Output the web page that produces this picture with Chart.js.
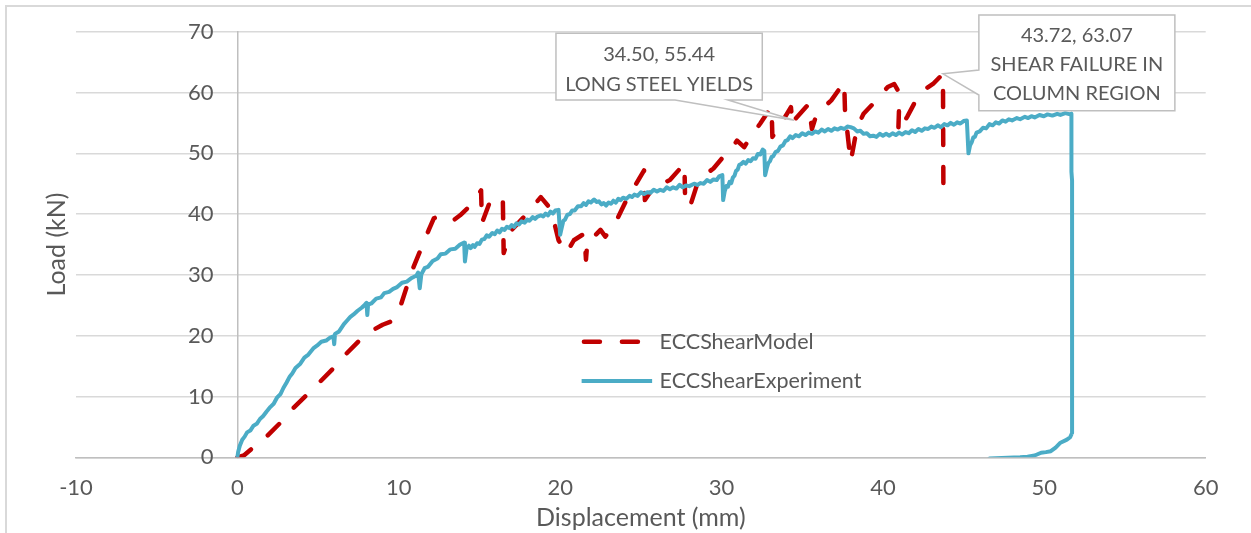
<!DOCTYPE html>
<html>
<head>
<meta charset="utf-8">
<title>ECC shear: load vs displacement</title>
<script src="https://cdn.jsdelivr.net/npm/chart.js@4.4.1/dist/chart.umd.min.js"></script>
<style>
  html, body { margin: 0; padding: 0; background: #fff; }
  #wrap { position: relative; width: 1251px; height: 533px; overflow: hidden; background: #fff; }
  #wrap canvas { position: absolute; left: 0; top: 0; }
  #frame { position: absolute; left: 5px; top: 5px; width: 1400px; height: 700px;
           border-left: 2px solid #d9d9d9; border-top: 2px solid #d9d9d9; pointer-events: none; }
</style>
</head>
<body>
<div id="wrap">
  <canvas id="chart" width="1251" height="533"></canvas>
  <div id="frame"></div>
</div>
<script>
// ---- data ---------------------------------------------------------------
const seriesNames = ['ECCShearModel', 'ECCShearExperiment'];

const xRange = [-10, 60];
const yRange = [0, 70];
const tickStep = 10;

const axisTitles = { x: 'Displacement (mm)', y: 'Load (kN)' };

// finite-element model: displacement (mm), load (kN)
const modelPoints = [
  [0, 0], [0.4, 0.3], [0.8, 1.2], [1.84, 3.5], [2.67, 5.7], [3.39, 7.9], [4.32, 10.3],
  [5.15, 12.5], [5.97, 14.7], [6.7, 16.9], [7.52, 19.1], [8.45, 21.0], [9.0, 21.8],
  [9.49, 22.3], [10.1, 24.8], [10.5, 28.1], [10.93, 31.4], [11.35, 34.1], [11.86, 37.4],
  [12.17, 39.3], [12.6, 39.8], [13.0, 39.6], [13.4, 39.0], [13.8, 39.8], [14.55, 41.7],
  [15.1, 43.9], [15.15, 38.5], [15.6, 41.7], [16.0, 43.1], [16.45, 42.0], [16.5, 33.6],
  [16.8, 36.0], [17.0, 37.4], [17.96, 40.1], [18.8, 42.8], [19.3, 41.2], [19.6, 39.0],
  [19.9, 35.7], [20.4, 33.6], [20.85, 35.7], [21.5, 36.8], [21.6, 32.5], [21.7, 36.0],
  [22.1, 36.3], [22.5, 37.4], [22.8, 36.3], [23.5, 39.0], [24.2, 42.8], [24.6, 44.5],
  [25.2, 47.2], [25.25, 42.3], [25.8, 44.5], [26.3, 45.0], [26.8, 45.6], [27.7, 48.3],
  [27.75, 41.2], [28.1, 41.7], [28.5, 45.0], [29.1, 46.7], [29.5, 47.5], [30.1, 49.4],
  [30.5, 50.3], [30.96, 52.1], [31.4, 51.0], [31.8, 52.7], [32.4, 54.9], [32.8, 56.5],
  [33.1, 57.6], [33.15, 52.7], [33.8, 55.4], [34.3, 57.6], [34.4, 54.6], [34.50, 55.44],
  [35.4, 58.1], [35.6, 54.0], [35.9, 56.5], [36.8, 58.7], [37.6, 61.7], [37.65, 57.0],
  [38.0, 48.6], [38.4, 54.3], [38.8, 56.5], [39.3, 57.9], [40.3, 60.9], [40.7, 61.4],
  [41.0, 60.0], [41.0, 57.5], [40.95, 53.4], [41.5, 56.0], [42.3, 60.0], [43.1, 61.4],
  [43.72, 63.07], [43.75, 41.8]
];

// test record: displacement (mm), load (kN)
const experimentPoints = [
  [0, 0], [0.05, 0.9], [0.15, 1.9], [0.3, 2.9], [0.45, 3.4], [0.6, 4.1], [0.8, 4.4],
  [1.0, 5.2], [1.2, 5.5], [1.4, 6.3], [1.6, 6.8], [1.8, 7.5], [2.05, 8.3], [2.25, 8.8],
  [2.45, 9.8], [2.67, 10.4], [2.85, 11.4], [3.05, 12.3], [3.25, 13.3], [3.4, 13.8],
  [3.6, 14.7], [3.9, 15.4], [4.15, 16.4], [4.4, 16.9], [4.7, 17.9], [4.95, 18.4],
  [5.2, 19.0], [5.5, 19.2], [5.75, 19.7], [5.95, 19.9], [6.0, 18.6], [6.05, 20.3],
  [6.3, 20.7], [6.6, 21.9], [6.8, 22.5], [7.0, 23.1], [7.2, 23.5], [7.45, 24.1],
  [7.7, 24.6], [7.9, 25.1], [8.0, 25.4], [8.05, 23.4], [8.1, 25.1], [8.3, 25.3],
  [8.6, 26.1], [8.9, 26.3], [9.1, 27.0], [9.4, 27.2], [9.65, 27.7], [9.9, 28.0],
  [10.2, 28.7], [10.5, 28.9], [10.8, 29.5], [11.1, 29.9], [11.2, 30.4], [11.3, 27.8],
  [11.4, 30.1], [11.6, 31.1], [11.8, 31.3], [12.1, 32.3], [12.4, 32.7], [12.6, 33.4],
  [12.9, 33.5], [13.2, 34.2], [13.5, 34.3], [13.8, 35.0], [14.05, 35.3], [14.1, 32.2],
  [14.2, 34.3], [14.35, 34.8], [14.45, 34.4], [14.6, 34.9], [14.7, 34.6], [14.85, 35.2],
  [15.0, 35.1], [15.15, 35.8], [15.3, 35.9], [15.45, 36.5], [15.6, 36.3], [15.8, 36.9],
  [15.95, 36.7], [16.1, 37.3], [16.25, 37.0], [16.4, 37.6], [16.55, 37.4], [16.7, 37.9],
  [16.85, 37.7], [17.0, 38.2], [17.15, 37.9], [17.3, 38.5], [17.45, 38.3], [17.6, 38.8],
  [17.8, 38.6], [17.96, 39.1], [18.1, 38.9], [18.3, 39.5], [18.45, 39.2], [18.6, 39.6],
  [18.8, 39.8], [18.95, 39.6], [19.1, 40.1], [19.25, 39.8], [19.4, 40.4], [19.55, 40.1],
  [19.7, 40.6], [19.9, 40.7], [20.0, 36.6], [20.1, 37.8], [20.2, 38.9], [20.3, 39.1],
  [20.45, 39.9], [20.6, 40.0], [20.75, 40.6], [20.9, 40.6], [21.1, 41.3], [21.3, 41.3],
  [21.45, 41.8], [21.6, 41.5], [21.75, 42.1], [21.9, 41.9], [22.1, 42.4], [22.25, 42.0],
  [22.4, 42.1], [22.55, 41.6], [22.7, 41.8], [22.85, 41.4], [23.0, 41.9], [23.15, 41.7],
  [23.3, 42.2], [23.45, 41.9], [23.6, 42.5], [23.75, 42.3], [23.9, 42.7], [24.1, 42.5],
  [24.3, 43.0], [24.45, 42.8], [24.6, 43.2], [24.8, 43.0], [25.0, 43.6], [25.2, 43.3],
  [25.4, 43.6], [25.6, 43.5], [25.8, 44.0], [26.0, 43.7], [26.2, 44.0], [26.4, 43.8],
  [26.6, 44.4], [26.8, 44.1], [27.0, 44.4], [27.2, 44.2], [27.4, 44.8], [27.6, 44.4],
  [27.8, 44.7], [28.0, 44.6], [28.3, 45.0], [28.5, 44.8], [28.7, 45.1], [28.9, 45.0],
  [29.1, 45.6], [29.3, 45.3], [29.5, 45.7], [29.7, 45.6], [29.85, 46.2], [30.05, 46.4],
  [30.1, 42.3], [30.2, 43.8], [30.3, 44.6], [30.4, 44.5], [30.5, 45.3], [30.6, 45.1],
  [30.7, 46.0], [30.8, 46.3], [30.9, 47.1], [31.0, 47.3], [31.1, 48.1], [31.2, 48.2],
  [31.35, 48.6], [31.5, 48.3], [31.65, 48.9], [31.8, 48.7], [31.95, 49.2], [32.1, 49.1],
  [32.25, 49.9], [32.4, 49.8], [32.55, 50.6], [32.65, 50.4], [32.7, 46.4], [32.8, 47.5],
  [32.9, 48.4], [33.0, 48.7], [33.1, 49.4], [33.2, 49.5], [33.35, 50.2], [33.5, 50.4],
  [33.65, 51.1], [33.8, 51.3], [33.95, 52.0], [34.1, 52.2], [34.25, 52.8], [34.4, 52.5],
  [34.6, 53.0], [34.8, 52.8], [35.0, 53.3], [35.2, 53.0], [35.4, 53.4], [35.6, 53.2],
  [35.8, 53.6], [36.0, 53.4], [36.2, 53.9], [36.4, 53.6], [36.6, 54.0], [36.8, 53.7],
  [37.0, 54.1], [37.2, 53.9], [37.4, 54.2], [37.6, 54.0], [37.8, 54.4], [38.0, 54.3],
  [38.2, 54.1], [38.4, 53.6], [38.6, 53.7], [38.8, 53.2], [39.0, 53.3], [39.2, 52.8],
  [39.4, 52.9], [39.6, 52.7], [39.8, 53.2], [40.0, 52.9], [40.2, 53.2], [40.4, 52.9],
  [40.6, 53.3], [40.8, 53.0], [41.0, 53.4], [41.2, 53.1], [41.4, 53.5], [41.6, 53.3],
  [41.8, 53.8], [42.0, 53.5], [42.2, 54.0], [42.4, 53.7], [42.6, 54.1], [42.8, 54.0],
  [43.0, 54.4], [43.2, 54.2], [43.4, 54.6], [43.6, 54.3], [43.8, 54.8], [44.0, 54.6],
  [44.2, 55.0], [44.4, 54.7], [44.6, 55.1], [44.8, 54.9], [45.0, 55.3], [45.2, 55.4],
  [45.3, 50.0], [45.4, 51.3], [45.5, 51.8], [45.6, 52.6], [45.7, 52.7], [45.8, 53.4],
  [46.0, 53.6], [46.2, 54.2], [46.4, 54.1], [46.6, 54.8], [46.8, 54.6], [47.0, 55.1],
  [47.2, 54.9], [47.4, 55.4], [47.6, 55.2], [47.8, 55.6], [48.0, 55.4], [48.3, 55.8],
  [48.5, 55.6], [48.8, 56.0], [49.0, 55.8], [49.2, 56.1], [49.4, 55.9], [49.7, 56.3],
  [49.97, 56.1], [50.2, 56.4], [50.5, 56.2], [50.8, 56.5], [51.0, 56.3], [51.3, 56.6],
  [51.6, 56.4], [51.68, 56.5], [51.68, 47.0], [51.72, 45.5], [51.72, 4.0], [51.6, 3.3],
  [51.4, 2.9], [51.0, 2.4], [50.7, 1.6], [50.4, 1.0], [50.1, 0.85], [49.8, 0.75],
  [49.4, 0.3], [48.96, 0.1], [48.5, 0.0], [46.6, -0.2]
];

// annotated model points and their notes
const calloutPoints = [[34.50, 55.44], [43.72, 63.07]];
const calloutNotes = [['LONG STEEL YIELDS'], ['SHEAR FAILURE IN', 'COLUMN REGION']];

// ---- styling ------------------------------------------------------------
const TEXT = '#595959';
const FAMILY = 'Lato';
const TICK_FONT = { family: FAMILY, size: 22 };
const TITLE_FONT = { family: FAMILY, size: 25 };
const KEY_FONT_SIZE = 21.5;
const NOTE_FONT_SIZE = 20;
const MODEL_COLOR = '#C00000';
const EXP_COLOR = '#4BACC6';
const MODEL_DASH = [16, 22];

Chart.defaults.font.family = FAMILY;
Chart.defaults.color = TEXT;

const toXY = pts => pts.map(p => ({ x: p[0], y: p[1] }));

// wedge callouts: box placed relative to the annotated point (pixels)
const calloutPlugin = {
  id: 'wedgeCallouts',
  afterDatasetsDraw(chart, args, opts) {
    const { ctx, scales: { x, y } } = chart;
    opts.items.forEach((it, i) => {
      const [vx, vy] = calloutPoints[i];
      const ax = x.getPixelForValue(vx);
      const ay = y.getPixelForValue(vy);
      const L = ax + it.box[0], T = ay + it.box[1];
      const R = L + it.box[2], B = T + it.box[3];
      const b1 = [ax + it.base[0][0], ay + it.base[0][1]];
      const b2 = [ax + it.base[1][0], ay + it.base[1][1]];
      ctx.save();
      ctx.beginPath();
      if (it.side === 'bottom') {
        ctx.moveTo(L, T); ctx.lineTo(R, T); ctx.lineTo(R, B);
        ctx.lineTo(b2[0], b2[1]); ctx.lineTo(ax, ay); ctx.lineTo(b1[0], b1[1]);
        ctx.lineTo(L, B);
      } else {
        ctx.moveTo(L, T); ctx.lineTo(R, T); ctx.lineTo(R, B); ctx.lineTo(L, B);
        ctx.lineTo(b2[0], b2[1]); ctx.lineTo(ax, ay); ctx.lineTo(b1[0], b1[1]);
      }
      ctx.closePath();
      ctx.fillStyle = '#ffffff';
      ctx.fill();
      ctx.lineWidth = 1.5;
      ctx.strokeStyle = '#bfbfbf';
      ctx.lineJoin = 'miter';
      ctx.stroke();

      const lines = [vx.toFixed(2) + ', ' + vy.toFixed(2)].concat(calloutNotes[i]);
      ctx.fillStyle = TEXT;
      ctx.font = NOTE_FONT_SIZE + 'px ' + FAMILY;
      ctx.textAlign = 'center';
      ctx.textBaseline = 'middle';
      const cx = (L + R) / 2;
      lines.forEach((s, k) => ctx.fillText(s, cx, T + it.firstLine + k * it.lineGap));
      ctx.restore();
    });
  }
};

// series key placed inside the plot
const keyPlugin = {
  id: 'insideKey',
  afterDatasetsDraw(chart, args, opts) {
    const { ctx, scales: { x, y } } = chart;
    const x0 = x.getPixelForValue(opts.at[0]);
    chart.data.datasets.forEach((ds, i) => {
      const yy = y.getPixelForValue(opts.at[1]) + i * opts.rowGap;
      ctx.save();
      ctx.beginPath();
      ctx.strokeStyle = ds.borderColor;
      ctx.lineWidth = ds.borderWidth;
      ctx.setLineDash(ds.borderDash || []);
      ctx.lineCap = ds.borderDash ? 'round' : 'butt';
      const inset = ds.borderDash ? 2.3 : 0;
      ctx.moveTo(x0 + inset, yy);
      ctx.lineTo(x0 + opts.sampleLen, yy);
      ctx.stroke();
      ctx.setLineDash([]);
      ctx.fillStyle = TEXT;
      ctx.font = KEY_FONT_SIZE + 'px ' + FAMILY;
      ctx.textAlign = 'left';
      ctx.textBaseline = 'middle';
      ctx.fillText(ds.label, x0 + opts.sampleLen + opts.textGap, yy);
      ctx.restore();
    });
  }
};

new Chart(document.getElementById('chart'), {
  type: 'scatter',
  data: {
    datasets: [
      {
        label: seriesNames[0],
        data: toXY(modelPoints),
        showLine: true,
        borderColor: MODEL_COLOR,
        backgroundColor: MODEL_COLOR,
        borderWidth: 4.5,
        borderDash: MODEL_DASH,
        borderCapStyle: 'round',
        borderJoinStyle: 'round',
        pointRadius: 0,
        tension: 0,
        order: 1
      },
      {
        label: seriesNames[1],
        data: toXY(experimentPoints),
        showLine: true,
        borderColor: EXP_COLOR,
        backgroundColor: EXP_COLOR,
        borderWidth: 4,
        borderJoinStyle: 'round',
        borderCapStyle: 'round',
        pointRadius: 0,
        tension: 0,
        order: 0
      }
    ]
  },
  options: {
    responsive: false,
    animation: false,
    devicePixelRatio: 1,
    events: [],
    layout: { padding: { left: 38, right: 45.3, top: 31.7, bottom: 0 } },
    plugins: {
      legend: { display: false },
      tooltip: { enabled: false },
      wedgeCallouts: {
        items: [
          { side: 'bottom', box: [-238.2, -86.9, 206.3, 66.7],
            base: [[-119.2, -20.2], [-66.2, -20.2]], firstLine: 21, lineGap: 30 },
          { side: 'left', box: [35.9, -58.8, 196, 95.7],
            base: [[35.9, -3.8], [35.9, 21.2]], firstLine: 21, lineGap: 29 }
        ]
      },
      insideKey: { at: [21.33, 19.0], rowGap: 39.3, sampleLen: 70.5, textGap: 7.5 }
    },
    scales: {
      x: {
        type: 'linear',
        position: 'bottom',
        min: xRange[0], max: xRange[1],
        ticks: { stepSize: tickStep, color: TEXT, font: TICK_FONT, padding: 17, maxRotation: 0 },
        grid: { display: false, drawTicks: false },
        border: { display: true, color: '#bfbfbf', width: 1.5 },
        title: { display: true, text: axisTitles.x, color: TEXT, font: TITLE_FONT, padding: { top: 2, bottom: 0 } },
        afterFit: s => { s.height = 75.7; }
      },
      y: {
        type: 'linear',
        axis: 'y',
        position: { x: 0 },
        min: yRange[0], max: yRange[1],
        ticks: { stepSize: tickStep, display: false },
        grid: { color: '#d9d9d9', lineWidth: 1.5, drawTicks: false },
        border: { display: true, color: '#bfbfbf', width: 1.5 }
      },
      yLabels: {
        type: 'linear',
        axis: 'y',
        position: { x: -1.48 },
        min: yRange[0], max: yRange[1],
        ticks: { stepSize: tickStep, color: TEXT, font: TICK_FONT, padding: 0 },
        grid: { display: false, drawTicks: false },
        border: { display: false }
      },
      yTitle: {
        type: 'linear',
        axis: 'y',
        position: 'left',
        min: yRange[0], max: yRange[1],
        ticks: { display: false },
        grid: { display: false, drawTicks: false },
        border: { display: false },
        title: { display: true, text: axisTitles.y, color: TEXT, font: TITLE_FONT, padding: { top: 4, bottom: 4 } },
        afterFit: s => { s.width = 38; }
      }
    }
  },
  plugins: [calloutPlugin, keyPlugin]
});
</script>
</body>
</html>
